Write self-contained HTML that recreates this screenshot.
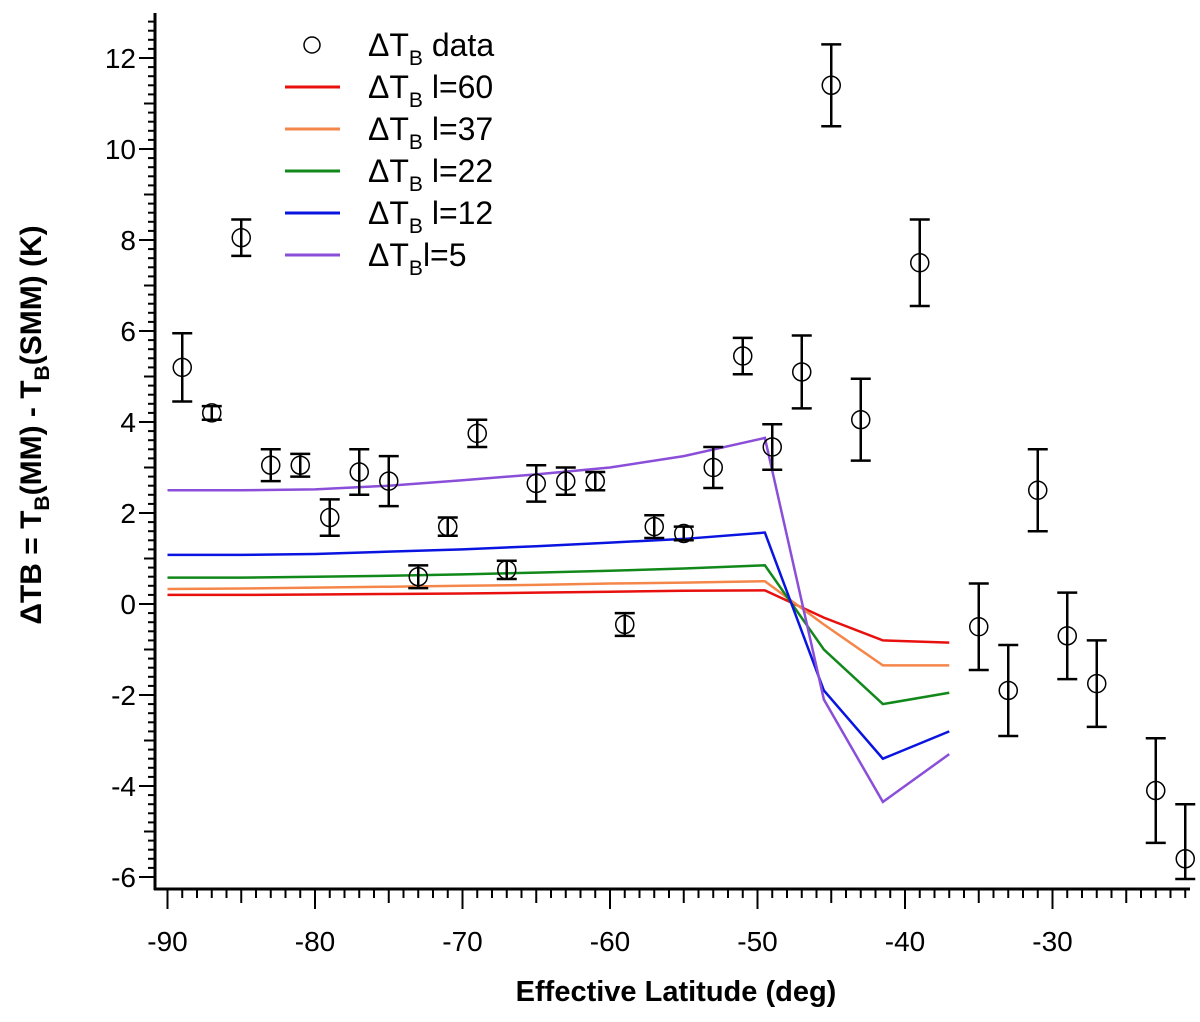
<!DOCTYPE html>
<html><head><meta charset="utf-8"><style>
body{margin:0;background:#fff}
svg text{font-family:"Liberation Sans","DejaVu Sans",sans-serif}
</style></head><body>
<svg id="chart" width="1200" height="1017" xmlns="http://www.w3.org/2000/svg">
<g id="axes"></g><g id="lines"></g><g id="pts"></g>
<g id="legend"></g>
<text x="676" y="1001" text-anchor="middle" font-size="29" font-weight="bold">Effective Latitude (deg)</text>
<text transform="translate(41,425) rotate(-90)" text-anchor="middle" font-size="30" font-weight="bold">ΔTB = T<tspan font-size="21" dy="8">B</tspan><tspan dy="-8">(MM) - T</tspan><tspan font-size="21" dy="8">B</tspan><tspan dy="-8">(SMM) (K)</tspan></text>
</svg>
<script>
const dataLat=[-89,-87,-85,-83,-81,-79,-77,-75,-73,-71,-69,-67,-65,-63,-61,-59,-57,-55,-53,-51,-49,-47,-45,-43,-39,-35,-33,-31,-29,-27,-23,-21];
const dataVal=[5.2,4.2,8.05,3.05,3.05,1.9,2.9,2.7,0.6,1.7,3.75,0.75,2.65,2.7,2.7,-0.45,1.7,1.55,3.0,5.45,3.45,5.1,11.4,4.05,7.5,-0.5,-1.9,2.5,-0.7,-1.75,-4.1,-5.6];
const dataErr=[0.75,0.15,0.4,0.35,0.25,0.4,0.5,0.55,0.25,0.2,0.3,0.2,0.4,0.3,0.2,0.25,0.25,0.15,0.45,0.4,0.5,0.8,0.9,0.9,0.95,0.95,1.0,0.9,0.95,0.95,1.15,1.2];
const modelLat=[-90,-85,-80,-75,-70,-65,-60,-55,-49.5,-45.5,-41.5,-37];
const l60=[0.2,0.2,0.21,0.22,0.23,0.25,0.27,0.29,0.3,-0.3,-0.8,-0.85];
const l37=[0.33,0.34,0.36,0.38,0.4,0.42,0.45,0.47,0.5,-0.45,-1.35,-1.35];
const l22=[0.58,0.58,0.6,0.62,0.65,0.69,0.73,0.78,0.85,-1.0,-2.2,-1.95];
const l12=[1.08,1.08,1.1,1.15,1.2,1.27,1.35,1.43,1.57,-1.9,-3.4,-2.8];
const l5=[2.5,2.5,2.52,2.6,2.72,2.85,3.0,3.25,3.65,-2.1,-4.35,-3.3];
const xTicks=[-90,-80,-70,-60,-50,-40,-30];
const yTicks=[-6,-4,-2,0,2,4,6,8,10,12];
const NS="http://www.w3.org/2000/svg";
const X=v=>167.5+(v+90)*14.75, Y=v=>604-v*45.5;
function mk(p,t,a){const e=document.createElementNS(NS,t);for(const k in a)e.setAttribute(k,a[k]);p.appendChild(e);return e;}
const ax=document.getElementById('axes');
let e=mk(ax,'line',{x1:155,y1:13,x2:155,y2:890,stroke:'#000','stroke-width':3});


e=mk(ax,'line',{x1:154,y1:889,x2:1190,y2:889,stroke:'#000','stroke-width':3});


for(let d=-90;d<=-21;d++){const m=d%10===0,h=d%5===0;mk(ax,'line',{x1:X(d),y1:889,x2:X(d),y2:889+(m?20:h?14:9),stroke:'#000','stroke-width':2});}
for(let i=-30;i<=65;i++){const v=i/5;const m=i%10===0;const yy=Y(v);if(yy<14)continue;mk(ax,'line',{x1:155,y1:yy,x2:155-(m?16:i%5===0?11:7),y2:yy,stroke:'#000','stroke-width':2});}
xTicks.forEach(t=>{const tx=mk(ax,'text',{x:X(t),y:951,'text-anchor':'middle','font-size':28});tx.textContent=t;

});
yTicks.forEach(t=>{const tx=mk(ax,'text',{x:136,y:Y(t)+10,'text-anchor':'end','font-size':28});tx.textContent=t;

});
const series=[[l60,'#e8100e','l60'],[l37,'#f5864a','l37'],[l22,'#11881a','l22'],[l12,'#0a14e0','l12'],[l5,'#8a4ed8','l5']];
const lg=document.getElementById('lines');
series.forEach(s=>{const p=mk(lg,'polyline',{points:modelLat.map((x,i)=>X(x)+','+Y(s[0][i])).join(' '),fill:'none',stroke:s[1],'stroke-width':2.5});

});
const pg=document.getElementById('pts');
dataLat.forEach((x,i)=>{const cx=X(x),cy=Y(dataVal[i]),t=Y(dataVal[i]+dataErr[i]),b=Math.min(Y(dataVal[i]-dataErr[i]),879);
const g=mk(pg,'g',{});


mk(g,'path',{d:`M${cx},${t}V${b}M${cx-10},${t}H${cx+10}M${cx-10},${b}H${cx+10}`,stroke:'#000','stroke-width':2.5,fill:'none'});
mk(g,'circle',{cx:cx,cy:cy,r:9,fill:'none',stroke:'#000','stroke-width':1.5});});
const L=document.getElementById('legend');
let c=mk(L,'circle',{cx:312,cy:45,r:8,fill:'none',stroke:'#000','stroke-width':1.5});


const labs=[['data',null],['l=60','#e8100e'],['l=37','#f5864a'],['l=22','#11881a'],['l=12','#0a14e0'],['l=5','#8a4ed8']];
labs.forEach((l,i)=>{const y=45+i*42;
if(l[1]){const ln=mk(L,'line',{x1:285,x2:340,y1:y,y2:y,stroke:l[1],'stroke-width':3});

}
const tx=mk(L,'text',{x:368,y:y+11,'font-size':32});


const sep=i===5?'':' ';
tx.innerHTML='ΔT<tspan font-size="21" dy="9">B</tspan><tspan dy="-9">'+sep+(i===0?'data':l[0])+'</tspan>';});
</script>
</body></html>
